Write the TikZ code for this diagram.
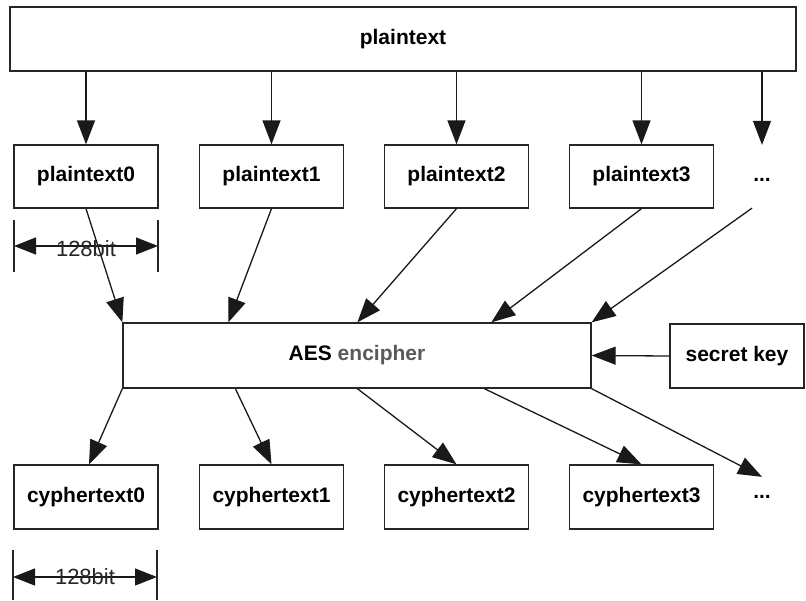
\documentclass[tikz,border=0pt]{standalone}
\usepackage{fontspec}
\setmainfont{Liberation Sans}
\usetikzlibrary{arrows.meta,calc}
\begin{document}
\begin{tikzpicture}[x=1pt,y=-1pt,
  box/.style={draw=black!85, line width=1.3pt, minimum width=144pt, minimum height=63pt, inner sep=0pt, font=\fontsize{21}{25}\selectfont\bfseries},
  ghost/.style={box, draw=none},
  conn/.style={draw=black!90, line width=1.3pt, -{Triangle[length=24pt,width=18pt]}},
  dim/.style={draw=black!90, line width=1.3pt, {Triangle[length=22pt,width=17pt]}-{Triangle[length=22pt,width=17pt]}},
  tick/.style={draw=black!85, line width=1.3pt},
  dimlabel/.style={font=\fontsize{22}{26}\selectfont, inner sep=0pt, text=black!85}
]
\useasboundingbox (0,0) rectangle (806,600);

% top box
\node[box, minimum width=786pt, minimum height=64pt] (pt) at (403,39) {\raisebox{-3pt}{plaintext}};

% plaintext blocks
\node[box] (p0) at (86,176.5) {plaintext0};
\node[box] (p1) at (271.5,176.5) {plaintext1};
\node[box] (p2) at (456.5,176.5) {plaintext2};
\node[box] (p3) at (641.5,176.5) {plaintext3};
\node[ghost] (pd) at (762,180) {...};

% AES and key
\node[box, minimum width=468pt, minimum height=65pt] (aes) at (357,355.5) {AES \textcolor{black!65}{encipher}};
\node[box, minimum width=134pt, minimum height=64pt] (sk) at (737,356) {secret key};

% cyphertext blocks
\node[box, minimum height=64pt] (c0) at (86,497) {cyphertext0};
\node[box, minimum height=64pt] (c1) at (271.5,497) {cyphertext1};
\node[box, minimum height=64pt] (c2) at (456.5,497) {cyphertext2};
\node[box, minimum height=64pt] (c3) at (641.5,497) {cyphertext3};
\node[ghost] (cd) at (762,497) {...};

% plaintext -> blocks
\draw[conn] (pt.south -| p0.north) -- (p0.north);
\draw[conn] (pt.south -| p1.north) -- (p1.north);
\draw[conn] (pt.south -| p2.north) -- (p2.north);
\draw[conn] (pt.south -| p3.north) -- (p3.north);
\draw[conn] (pt.south -| pd.north) -- ([yshift=3pt]pd.north);

% blocks -> AES
\draw[conn] (p0.south) -- (aes.north west);
\draw[conn] (p1.south) -- ([xshift=106pt]aes.north west);
\draw[conn] (p2.south) -- ([xshift=235pt]aes.north west);
\draw[conn] (p3.south) -- ([xshift=369pt]aes.north west);
\draw[conn] ([shift={(-10pt,4pt)}]pd.south) -- (aes.north east);

% key -> AES
\draw[conn] (sk.west) -- (aes.east);

% AES -> cyphertexts
\draw[conn] (aes.south west) -- ([xshift=3pt]c0.north);
\draw[conn] ([xshift=113pt]aes.south west) -- (c1.north);
\draw[conn] ([xshift=235pt]aes.south west) -- (c2.north);
\draw[conn] ([xshift=362pt]aes.south west) -- (c3.north);
\draw[conn] (aes.south east) -- ([yshift=-12pt]cd.north);

% dimension 1
\coordinate (t0a) at (14,220); \coordinate (t0b) at (14,272);
\coordinate (t1a) at (158,220); \coordinate (t1b) at (158,272);
\coordinate (d0l) at (14,246); \coordinate (d0r) at (158,246);
\draw[tick] (t0a) -- (t0b);
\draw[tick] (t1a) -- (t1b);
\draw[dim] (d0l) -- node[dimlabel, yshift=-3pt] (lab0) {128bit} (d0r);

% dimension 2
\coordinate (t2a) at (13,550); \coordinate (t2b) at (13,600);
\coordinate (t3a) at (157,550); \coordinate (t3b) at (157,600);
\coordinate (d1l) at (13,577); \coordinate (d1r) at (157,577);
\draw[tick] (t2a) -- (t2b);
\draw[tick] (t3a) -- (t3b);
\draw[dim] (d1l) -- node[dimlabel] (lab1) {128bit} (d1r);
\end{tikzpicture}
\end{document}
